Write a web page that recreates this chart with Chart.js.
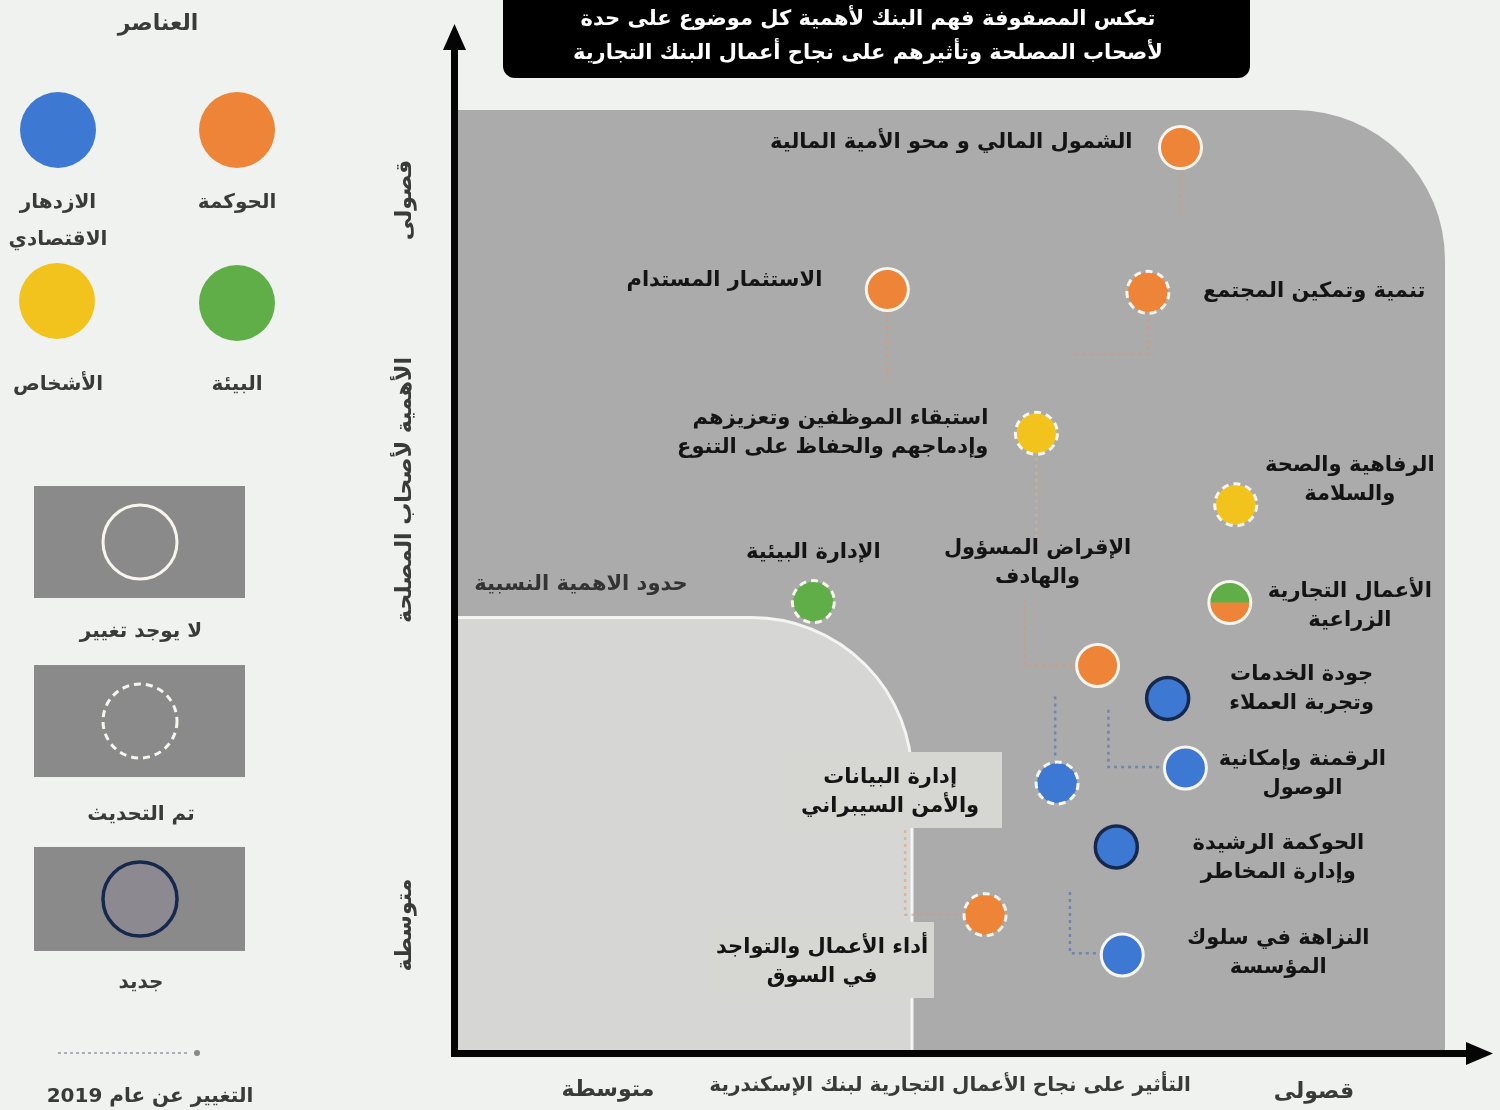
<!DOCTYPE html>
<html lang="ar">
<head>
<meta charset="utf-8">
<title>مصفوفة الأهمية النسبية</title>
<script src="https://cdn.jsdelivr.net/npm/chart.js@4.4.1/dist/chart.umd.min.js"></script>
<style>
  body { margin: 0; background: #f0f2ef; }
  #wrap { position: relative; width: 1500px; height: 1110px; }
</style>
</head>
<body>
<div id="wrap"><canvas id="matrix"></canvas></div>
<script>
// topics of the materiality matrix (label lines)
const topics = [
  ["الشمول المالي و محو الأمية المالية"],
  ["تنمية وتمكين المجتمع"],
  ["الاستثمار المستدام"],
  ["استبقاء الموظفين وتعزيزهم", "وإدماجهم والحفاظ على التنوع"],
  ["الرفاهية والصحة", "والسلامة"],
  ["الإدارة البيئية"],
  ["الأعمال التجارية", "الزراعية"],
  ["الإقراض المسؤول", "والهادف"],
  ["جودة الخدمات", "وتجربة العملاء"],
  ["الرقمنة وإمكانية", "الوصول"],
  ["إدارة البيانات", "والأمن السيبراني"],
  ["الحوكمة الرشيدة", "وإدارة المخاطر"],
  ["أداء الأعمال والتواجد", "في السوق"],
  ["النزاهة في سلوك", "المؤسسة"]
];
// impact on business success (x) and importance to stakeholders (y), 0-100
const impact     = [73.2, 69.9, 43.5, 58.6, 78.8, 36.0, 78.2, 64.8, 71.9, 73.7, 60.7, 66.7, 53.4, 67.3];
const importance = [96.0, 80.6, 80.9, 65.6, 58.0, 47.7, 47.6, 40.9, 37.4, 30.0, 28.4, 21.6, 14.4, 10.1];
const pillar = ["gov", "gov", "gov", "people", "people", "env", "agri", "gov", "econ", "econ", "econ", "econ", "gov", "econ"];
const status = ["same", "updated", "same", "updated", "updated", "updated", "same", "same", "new", "same", "updated", "new", "updated", "same"];
const threshold = 46; // materiality limit on both axes

// change since 2019 (paths leading to the topic)
const moves2019 = [
  { pillar: "gov",    pts: [[73.2, 94.0], [73.2, 88.6]] },
  { pillar: "gov",    pts: [[43.5, 78.5], [43.5, 71.0]] },
  { pillar: "gov",    pts: [[69.9, 78.5], [69.9, 74.0], [62.5, 74.0]] },
  { pillar: "people", pts: [[58.6, 63.0], [58.6, 53.5]] },
  { pillar: "gov",    pts: [[57.4, 48.0], [57.4, 40.9], [62.6, 40.9]] },
  { pillar: "econ",   pts: [[60.5, 37.6], [60.5, 31.2]] },
  { pillar: "econ",   pts: [[65.9, 36.2], [65.9, 30.1], [71.2, 30.1]] },
  { pillar: "econ",   pts: [[62.0, 16.8], [62.0, 10.3], [64.8, 10.3]] },
  { pillar: "gov",    pts: [[45.3, 23.4], [45.3, 14.4], [51.2, 14.4]] }
];

const colors = { gov: "#ee8437", econ: "#3d79d2", env: "#5fae48", people: "#f2c31d" };
const faint = { gov: "rgba(226,150,110,0.55)", econ: "rgba(95,120,170,0.75)", people: "rgba(215,190,120,0.5)" };

// label offsets from the marker, pixels: [dx, dy of first line, align]
const labelLayout = [
  [-48, -5, "right"], [55, -1, "left"], [-65, -9, "right"], [-48, -15, "right"],
  [114, -39, "center"], [0, -49, "center"], [120, -11, "center"], [-60, -117, "center"],
  [134, -24, "center"], [117, -8, "center"], [-167, -5, "center"], [162, -3, "center"],
  [-163, 33, "center"], [156, -17, "center"]
];
const boxedLabels = { 10: [782, 752, 220, 76], 12: [712, 922, 222, 76] };

const FONT = '"DejaVu Sans", sans-serif';

function text(ctx, str, x, y, size, color, align, bold) {
  ctx.font = (bold === false ? "" : "bold ") + size + "px " + FONT;
  ctx.fillStyle = color;
  ctx.textAlign = align || "center";
  ctx.textBaseline = "middle";
  ctx.direction = "rtl";
  ctx.fillText(str, x, y);
}

function roundTopRight(ctx, l, t, r, b, rad) {
  ctx.beginPath();
  ctx.moveTo(l, t);
  ctx.lineTo(r - rad, t);
  ctx.arcTo(r, t, r, t + rad, rad);
  ctx.lineTo(r, b);
  ctx.lineTo(l, b);
  ctx.closePath();
}

function ring(ctx, x, y, r, kind) {
  ctx.save();
  ctx.beginPath();
  ctx.arc(x, y, r, 0, Math.PI * 2);
  if (kind === "new") {
    ctx.strokeStyle = "#17284d";
    ctx.lineWidth = 3.5;
  } else {
    ctx.strokeStyle = "#f8f5ee";
    ctx.lineWidth = 3;
    if (kind === "updated") ctx.setLineDash([7, 5]);
  }
  ctx.stroke();
  ctx.restore();
}

const matrixPlugin = {
  id: "matrix",
  beforeDatasetsDraw(chart) {
    const { ctx, chartArea: a, scales: { x, y } } = chart;
    ctx.save();
    // outer (material) region
    roundTopRight(ctx, a.left, a.top, a.right, a.bottom, 150);
    ctx.fillStyle = "#aaabaa";
    ctx.fill();
    // inner region below the materiality limit
    const tx = x.getPixelForValue(threshold), ty = y.getPixelForValue(threshold);
    roundTopRight(ctx, a.left, ty, tx, a.bottom, 160);
    ctx.fillStyle = "#d6d7d4";
    ctx.fill();
    ctx.beginPath();
    ctx.moveTo(a.left, ty);
    ctx.lineTo(tx - 160, ty);
    ctx.arcTo(tx, ty, tx, ty + 160, 160);
    ctx.lineTo(tx, a.bottom);
    ctx.strokeStyle = "rgba(250,250,248,0.9)";
    ctx.lineWidth = 3;
    ctx.stroke();
    text(ctx, "حدود الاهمية النسبية", a.left + 123, ty - 33, 21, "#333", "center");
    // boxes behind some labels
    ctx.fillStyle = "#d6d7d3";
    Object.values(boxedLabels).forEach(b => ctx.fillRect(b[0], b[1], b[2], b[3]));
    ctx.restore();
  },
  afterDatasetsDraw(chart) {
    const { ctx } = chart;
    const meta = chart.getDatasetMeta(0);
    ctx.save();
    meta.data.forEach((pt, i) => {
      if (pillar[i] === "agri") {
        ctx.beginPath();
        ctx.arc(pt.x, pt.y, 20, Math.PI, Math.PI * 2);
        ctx.closePath();
        ctx.fillStyle = colors.env;
        ctx.fill();
      }
      ring(ctx, pt.x, pt.y, 21, status[i]);
      const [dx, dy, align] = labelLayout[i];
      topics[i].forEach((line, k) => {
        text(ctx, line, pt.x + dx, pt.y + dy + k * 29, 21, "#141414", align);
      });
    });
    ctx.restore();
  },
  afterDraw(chart) {
    const { ctx, chartArea: a } = chart;
    ctx.save();
    // axes with arrows
    ctx.fillStyle = "#050505";
    ctx.fillRect(a.left - 7, 40, 7, a.bottom - 40 + 7);
    ctx.fillRect(a.left - 7, a.bottom, 1478 - a.left, 7);
    ctx.beginPath();
    ctx.moveTo(a.left - 3.5, 24); ctx.lineTo(a.left - 15, 50); ctx.lineTo(a.left + 8, 50); ctx.closePath();
    ctx.fill();
    ctx.beginPath();
    ctx.moveTo(1493, a.bottom + 3.5); ctx.lineTo(1466, a.bottom - 8); ctx.lineTo(1466, a.bottom + 15); ctx.closePath();
    ctx.fill();

    // title box
    ctx.beginPath();
    ctx.roundRect(503, -12, 747, 90, 12);
    ctx.fillStyle = "#000";
    ctx.fill();
    text(ctx, "تعكس المصفوفة فهم البنك لأهمية كل موضوع على حدة", 868, 20, 21, "#fff");
    text(ctx, "لأصحاب المصلحة وتأثيرهم على نجاح أعمال البنك التجارية", 868, 54, 21, "#fff");

    // axis titles
    text(ctx, "متوسطة", 608, 1090, 22, "#3a3a3a");
    text(ctx, "التأثير على نجاح الأعمال التجارية لبنك الإسكندرية", 950, 1086, 20, "#3a3a3a");
    text(ctx, "قصولى", 1314, 1092, 22, "#3a3a3a");
    [["قصولى", 200], ["الأهمية لأصحاب المصلحة", 490], ["متوسطة", 925]].forEach(([s, cy]) => {
      ctx.save();
      ctx.translate(405, cy);
      ctx.rotate(-Math.PI / 2);
      text(ctx, s, 0, 0, 22, "#3a3a3a");
      ctx.restore();
    });

    // legend: pillars
    text(ctx, "العناصر", 158, 24, 22, "#3a3a3a");
    const dots = [[237, 130, colors.gov], [58, 130, colors.econ], [237, 303, colors.env], [57, 301, colors.people]];
    dots.forEach(([cx, cy, c]) => {
      ctx.beginPath();
      ctx.arc(cx, cy, 38, 0, Math.PI * 2);
      ctx.fillStyle = c;
      ctx.fill();
    });
    text(ctx, "الحوكمة", 237, 203, 20, "#3a3a3a");
    text(ctx, "الازدهار", 58, 203, 20, "#3a3a3a");
    text(ctx, "الاقتصادي", 58, 240, 20, "#3a3a3a");
    text(ctx, "البيئة", 237, 385, 20, "#3a3a3a");
    text(ctx, "الأشخاص", 58, 385, 20, "#3a3a3a");

    // legend: status
    const boxes = [[486, "same", "لا يوجد تغيير", 632], [665, "updated", "تم التحديث", 815], [847, "new", "جديد", 983]];
    boxes.forEach(([top, kind, label, ly]) => {
      const h = kind === "new" ? 104 : 112;
      ctx.fillStyle = "#8a8a8a";
      ctx.fillRect(34, top, 211, h);
      const cy = top + h / 2;
      if (kind === "new") {
        ctx.beginPath();
        ctx.arc(140, cy, 37, 0, Math.PI * 2);
        ctx.fillStyle = "#8c8a90";
        ctx.fill();
      }
      ring(ctx, 140, cy, 37, kind);
      text(ctx, label, 141, ly, 20, "#3a3a3a");
    });
    ctx.beginPath();
    ctx.moveTo(58, 1053); ctx.lineTo(190, 1053);
    ctx.setLineDash([3, 3]);
    ctx.strokeStyle = "#a9afba";
    ctx.lineWidth = 2;
    ctx.stroke();
    ctx.setLineDash([]);
    ctx.beginPath();
    ctx.arc(197, 1053, 3, 0, Math.PI * 2);
    ctx.fillStyle = "#888";
    ctx.fill();
    text(ctx, "التغيير عن عام 2019", 150, 1097, 20, "#3a3a3a");
    ctx.restore();
  }
};

const datasets = [{
  type: "scatter",
  data: impact.map((v, i) => ({ x: v, y: importance[i] })),
  pointRadius: 20,
  pointBorderWidth: 0,
  pointBackgroundColor: pillar.map(p => p === "agri" ? colors.gov : colors[p]),
  order: 0
}];
moves2019.forEach(m => {
  datasets.push({
    type: "line",
    data: m.pts.map(p => ({ x: p[0], y: p[1] })),
    borderColor: faint[m.pillar],
    borderWidth: 2.5,
    borderDash: [3, 4],
    pointRadius: 0,
    fill: false,
    order: 1
  });
});

new Chart(document.getElementById("matrix"), {
  data: { datasets },
  options: {
    responsive: true,
    maintainAspectRatio: false,
    animation: false,
    layout: { padding: { left: 458, right: 55, top: 110, bottom: 60 } },
    plugins: { legend: { display: false }, tooltip: { enabled: false } },
    scales: {
      x: { type: "linear", min: 0, max: 100, display: false },
      y: { type: "linear", min: 0, max: 100, display: false }
    }
  },
  plugins: [matrixPlugin]
});
</script>
</body>
</html>
